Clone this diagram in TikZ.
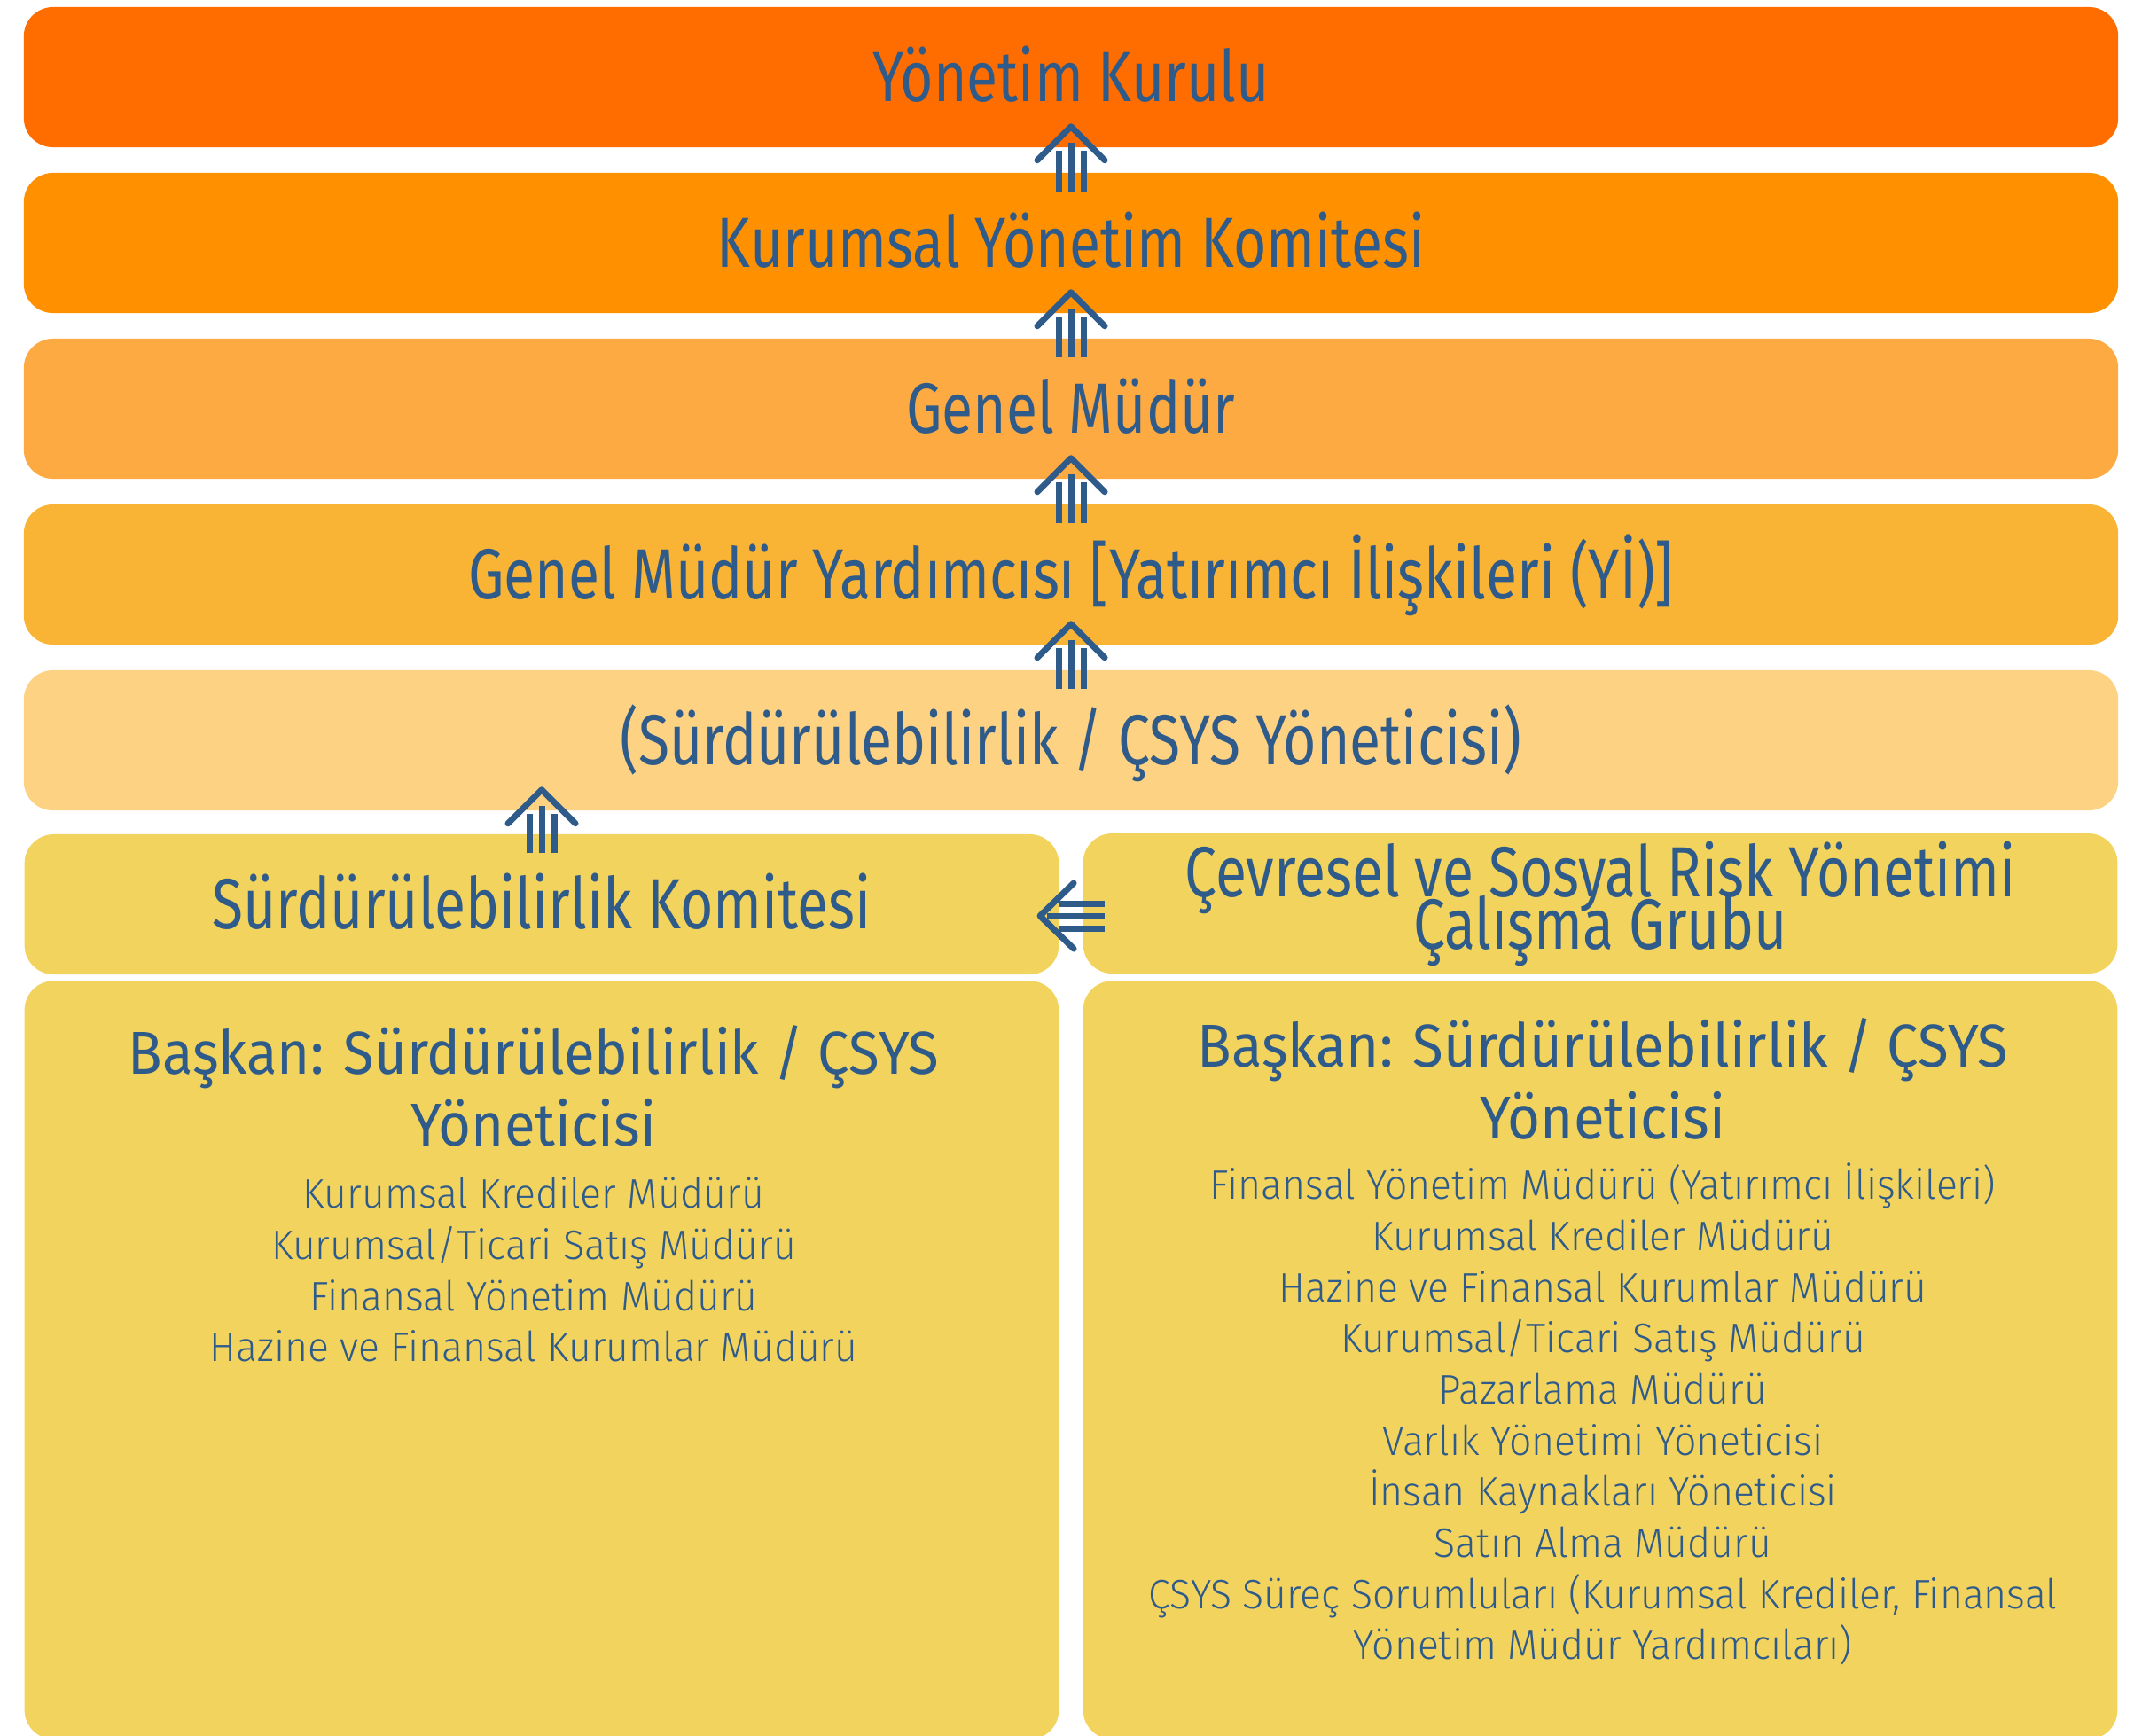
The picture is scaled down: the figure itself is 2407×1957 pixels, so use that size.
\documentclass[tikz,border=0pt]{standalone}
\usepackage{fontspec}
\setmainfont{Fira Sans}[FakeStretch=0.8]
\newfontfamily\genis{Fira Sans}[FakeStretch=0.93]
\newfontfamily\ince{Fira Sans Light}[FakeStretch=0.96]
\usetikzlibrary{calc}
\newcommand\sikisatir{\lineskiplimit=-10cm\relax}
\definecolor{kurul}{RGB}{255,109,0}
\definecolor{komite}{RGB}{255,144,0}
\definecolor{gm}{RGB}{254,170,66}
\definecolor{gmy}{RGB}{249,180,54}
\definecolor{csys}{RGB}{254,210,131}
\definecolor{grup}{RGB}{242,211,94}
\definecolor{yazi}{RGB}{47,91,138}
\tikzset{
  kutu/.style={rounded corners=0.33cm, minimum width=23.61cm, minimum height=1.58cm,
    inner sep=0pt, text=yazi, font=\fontsize{22.8}{16.8}\selectfont\sikisatir},
  kat/.style={kutu, text height=15.7pt, text depth=0pt},
  yarim/.style={minimum width=11.66cm},
  baslik/.style={inner sep=0pt, text=yazi, align=center, font=\genis\fontsize{19.4}{23}\selectfont\sikisatir},
  liste/.style={inner sep=0pt, text=yazi, align=center, font=\ince\fontsize{13.2}{16.4}\selectfont},
  govde/.style={draw=yazi, line width=0.07cm},
  bas/.style={govde, line cap=round, line join=round},
}
\begin{document}
\begin{tikzpicture}[x=0.01cm, y=-0.01cm]
  \useasboundingbox (0,0) rectangle (2407,1957);
  % katmanlar
  \node[kat, fill=kurul] (b1) at (1208,87) {Yönetim Kurulu};
  \node[kat, fill=komite] (b2) at (1208,274) {Kurumsal Yönetim Komitesi};
  \node[kat, fill=gm] (b3) at (1208,461) {Genel Müdür};
  \node[kat, fill=gmy] (b4) at (1208,648) {Genel Müdür Yardımcısı [Yatırımcı İlişkileri (Yİ)]};
  \node[kat, fill=csys] (b5) at (1208,835) {(Sürdürülebilirlik / ÇSYS Yöneticisi)};
  \node[kat, yarim, fill=grup] (b6L) at (611,1020) {Sürdürülebilirlik Komitesi};
  \node[kutu, yarim, fill=grup, align=center] (b6R) at (1805,1019) {Çevresel ve Sosyal Risk Yönetimi\\Çalışma Grubu};
  \node[kutu, yarim, fill=grup, minimum height=8.55cm] (altL) at (611,1534) {};
  \node[kutu, yarim, fill=grup, minimum height=8.55cm] (altR) at (1805,1534) {};
  % alt kutularin yazilari
  \node[baslik] (bL) at (602,1225) {Başkan: Sürdürülebilirlik / ÇSYS\\Yöneticisi};
  \node[liste] (lL) at (602,1432) {Kurumsal Krediler Müdürü\\Kurumsal/Ticari Satış Müdürü\\Finansal Yönetim Müdürü\\Hazine ve Finansal Kurumlar Müdürü};
  \node[baslik] (bR) at (1808,1217) {Başkan: Sürdürülebilirlik / ÇSYS\\Yöneticisi};
  \node[liste] (lR) at (1808,1595) {Finansal Yönetim Müdürü (Yatırımcı İlişkileri)\\Kurumsal Krediler Müdürü\\Hazine ve Finansal Kurumlar Müdürü\\Kurumsal/Ticari Satış Müdürü\\Pazarlama Müdürü\\Varlık Yönetimi Yöneticisi\\İnsan Kaynakları Yöneticisi\\Satın Alma Müdürü\\ÇSYS Süreç Sorumluları (Kurumsal Krediler, Finansal\\Yönetim Müdür Yardımcıları)};
  % oklar
  \foreach \alt/\ust in {b2/b1,b3/b2,b4/b3,b5/b4,b6L/b5}{
    \coordinate (tepe) at ($(\alt.north |- \ust.south)+(0,-24)$);
    \foreach \dx/\t in {-14/27,0/18,14/27}
      \draw[govde] ($(\alt.north)+(\dx,22)$) -- ($(tepe)+(\dx,\t)$);
    \draw[bas] ($(tepe)+(-38,38)$) -- (tepe) -- ($(tepe)+(38,38)$);
  }
  \coordinate (tepe) at ($(b6L.east)+(-22,13)$);
  \foreach \dy/\t in {-14/21,0/8,14/21}
    \draw[govde] ($(b6R.west |- tepe)+(25,\dy)$) -- ($(tepe)+(\t,\dy)$);
  \draw[bas] ($(tepe)+(38,-37)$) -- (tepe) -- ($(tepe)+(38,37)$);
\end{tikzpicture}
\end{document}
